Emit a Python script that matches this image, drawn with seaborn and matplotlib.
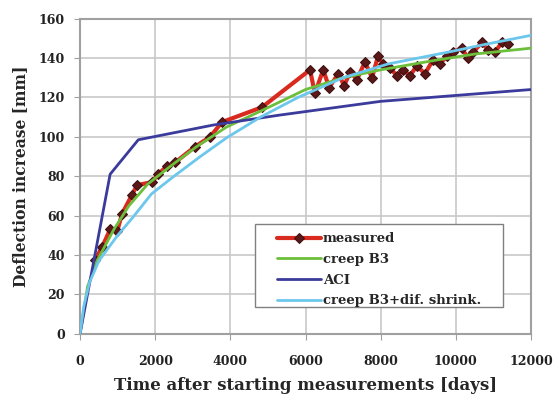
import matplotlib
matplotlib.use('Agg')
import matplotlib.pyplot as plt
from matplotlib.patches import Rectangle
import seaborn as sns
import pandas as pd

sns.set_style('whitegrid')
plt.rcParams['font.family'] = ['DejaVu Serif']
plt.rcParams['font.weight'] = 'bold'

# measured deflection increase
meas_t = [400, 585, 800, 985, 1120, 1380, 1520, 1915, 2075, 2310, 2530, 3060, 3460,
          3780, 4840, 6120, 6250, 6470, 6630, 6870, 7030, 7190, 7370, 7580, 7770, 7930,
          8060, 8250, 8430, 8600, 8780, 8960, 9180, 9390, 9580, 9760, 9930, 10160, 10320,
          10460, 10700, 10850, 11040, 11230, 11390]
meas_y = [37.5, 44, 53, 52, 61, 70.5, 75.5, 77, 81, 85, 87, 95, 100,
          107.5, 115, 134, 122, 134, 125, 132, 126, 133, 129, 138, 130, 141,
          137, 135, 131, 134, 131, 136, 132, 139, 137, 141, 143, 145, 140,
          143, 148, 144, 143, 148, 147]

# creep B3
b3_t = [0, 200, 450, 900, 1300, 1800, 2400, 3100, 3900, 4800, 6000, 7000, 8000, 9500, 10500, 12000]
b3_y = [0, 24, 37, 53, 65, 76, 85, 95, 105, 113, 124, 130, 134, 139, 142, 145]

# ACI
aci_t = [0, 800, 1550, 3550, 5300, 8000, 10000, 12000]
aci_y = [0, 81, 98.5, 106, 111, 118, 121, 124]

# creep B3 + differential shrinkage
sh_t = [0, 100, 250, 500, 1000, 1400, 1900, 2500, 3200, 3900, 4800, 5800, 7000, 8200, 9800, 10800, 12000]
sh_y = [0, 14, 26, 37, 50, 59, 71, 80, 90, 99.5, 110, 120, 130, 137, 143, 147, 151.5]

fig = plt.figure(figsize=(5.56, 3.96), dpi=100)
ax = fig.add_axes([0.144, 0.157, 0.811, 0.796])

meas = pd.DataFrame({'t': meas_t, 'y': meas_y})
sns.lineplot(data=meas, x='t', y='y', sort=False, color='#d92a20', lw=3,
             marker='D', markersize=5, markerfacecolor='#5a1818', markeredgecolor='#3d0e0e',
             label='measured', ax=ax, zorder=3)
sns.lineplot(x=b3_t, y=b3_y, color='#6cbf3a', lw=2, label='creep B3', ax=ax, zorder=4)
sns.lineplot(x=aci_t, y=aci_y, color='#3b3b9c', lw=2, label='ACI', ax=ax, zorder=4)
sns.lineplot(x=sh_t, y=sh_y, color='#6cc7ec', lw=2, label='creep B3+dif. shrink.', ax=ax, zorder=4)

ax.set_xlim(0, 12000)
ax.set_ylim(0, 160)
ax.set_xticks(range(0, 12001, 2000))
ax.set_yticks(range(0, 161, 20))
ax.tick_params(axis='x', labelsize=9, pad=11, length=4, color='#a0a0a0', bottom=True)
ax.tick_params(axis='y', labelsize=9, pad=7, length=4, color='#a0a0a0', left=True)
for lab in ax.get_xticklabels() + ax.get_yticklabels():
    lab.set_fontweight('bold')
    lab.set_color('#222222')
ax.grid(color='#c8c8c8', lw=1.2)
for s in ax.spines.values():
    s.set_color('#a0a0a0')
    s.set_linewidth(1.5)

ax.set_xlabel('Time after starting measurements [days]', fontsize=12, fontweight='bold', labelpad=7)
ax.set_ylabel('Deflection increase [mm]', fontsize=11.2, fontweight='bold', labelpad=7)

ax.add_patch(Rectangle((0.388, 0.0856), 0.55, 0.263, transform=ax.transAxes,
                       facecolor='white', edgecolor='#808080', lw=1, zorder=5))
leg = ax.legend(loc='upper left', bbox_to_anchor=(0.437, 0.322), fontsize=9.5,
                frameon=False, handlelength=3.3, handletextpad=0.15,
                borderpad=0, borderaxespad=0, labelspacing=0.58)
leg.set_zorder(6)
for t in leg.get_texts():
    t.set_fontweight('bold')

fig.savefig('out.png', dpi=100)
